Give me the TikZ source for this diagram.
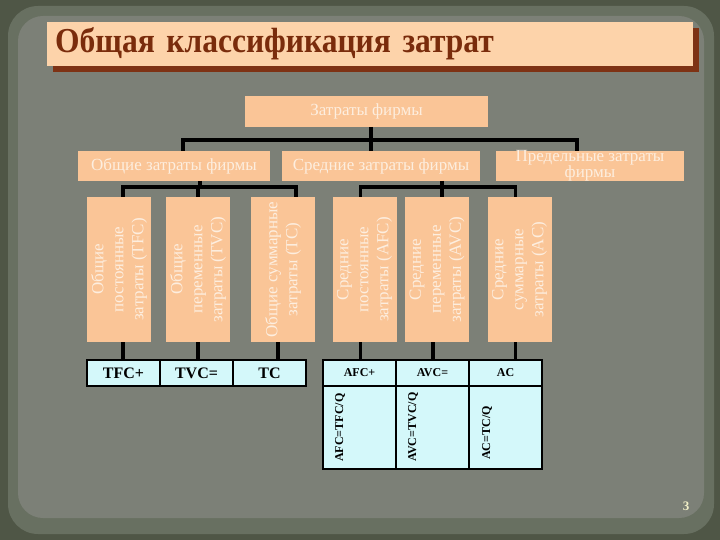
\documentclass[tikz,border=0pt]{standalone}
\usepackage{fontspec}
\setmainfont{Liberation Serif}
\newfontfamily\titlefont[FakeStretch=0.9]{Liberation Serif}
\usetikzlibrary{positioning}

\definecolor{boardedge}{HTML}{4F5646}
\definecolor{boardmid}{HTML}{687061}
\definecolor{board}{HTML}{7C8077}
\definecolor{titlebar}{HTML}{FDD3AA}
\definecolor{titleshadow}{HTML}{7E3214}
\definecolor{titletext}{HTML}{7A2C0C}
\definecolor{peachfill}{HTML}{FAC597}
\definecolor{peachtext}{HTML}{FDEEDF}
\definecolor{cellfill}{HTML}{D4F8FA}
\definecolor{pagenum}{HTML}{F2F0C8}

\begin{document}
\begin{tikzpicture}[x=1pt,y=-1pt,
		peach/.style={fill=peachfill,inner sep=0pt,outer sep=0pt,text=peachtext,font=\fontsize{17}{16}\selectfont},
		vbox/.style={peach,minimum width=64pt,minimum height=145pt},
		vtext/.style={rotate=90,align=center,inner sep=0pt,text=peachtext,font=\fontsize{17}{20}\selectfont},
		cell/.style={draw=black,line width=1.2pt,fill=cellfill,inner sep=0pt,outer sep=0pt,minimum width=73pt,minimum height=26pt,font=\bfseries\fontsize{16}{16}\selectfont},
		formula/.style={rotate=90,anchor=west,inner sep=0pt,font=\bfseries\fontsize{12}{12}\selectfont},
		link/.style={line width=3.5pt}]
	\useasboundingbox (0,0) rectangle (720,540);
	\fill[boardedge] (0,0) rectangle (720,540);
	\fill[boardmid,rounded corners=30pt] (8,6) rectangle (714,534);
	\fill[board,rounded corners=25pt] (18,16) rectangle (704,518);

	\fill[titleshadow] (53,28) rectangle (699,72);
	\node[fill=titlebar,anchor=north west,minimum width=646pt,minimum height=44pt,text width=630pt,inner xsep=8pt,inner ysep=0pt,text=titletext,font=\titlefont\bfseries\fontsize{35}{35}\selectfont] (title) at (47,22) {Общая классификация затрат};

	\node[peach,minimum width=243pt,minimum height=31pt] (top) at (366.5,111.5) {Затраты фирмы};

	\node[peach,minimum width=192pt,minimum height=30pt] (g1) at (174,166) {Общие затраты фирмы};
	\node[peach,minimum width=198pt,minimum height=30pt] (g2) at (381,166) {Средние затраты фирмы};
	\node[peach,minimum width=188pt,minimum height=29pt,align=center] (g3) at (590,166) {Предельные затраты\\фирмы};

	\node[vbox] (v1) at (119,269.5) {};
	\node[vbox] (v2) at (198,269.5) {};
	\node[vbox] (v3) at (283,269.5) {};
	\node[vbox] (v4) at (364.5,269.5) {};
	\node[vbox] (v5) at (437,269.5) {};
	\node[vbox] (v6) at (519.5,269.5) {};
	\node[vtext] at (v1) {Общие\\постоянные\\затраты (TFC)};
	\node[vtext] at (v2) {Общие\\переменные\\затраты (TVC)};
	\node[vtext] at (v3) {Общие суммарные\\затраты (TC)};
	\node[vtext] at (v4) {Средние\\постоянные\\затраты (AFC)};
	\node[vtext] at (v5) {Средние\\переменные\\затраты (AVC)};
	\node[vtext] at (v6) {Средние\\суммарные\\затраты (AC)};

	\coordinate (hub) at (371,140);
	\coordinate (j1) at (200,187);
	\coordinate (j2) at (442,187);
	\draw[link] (top.south -| hub) -- (hub);
	\draw[link] ([xshift=9pt]g1.north) |- (hub) -| ([xshift=-13pt]g3.north);
	\draw[link] (hub) -- (g2.north -| hub);
	\draw[link] (g1.south -| j1) -- (j1);
	\draw[link] ([xshift=4pt]v1.north) |- (j1) -| ([xshift=13pt]v3.north);
	\draw[link] (v2.north |- j1) -- (v2.north);
	\draw[link] (g2.south -| j2) -- (j2);
	\draw[link] ([xshift=-4pt]v4.north) |- (j2) -| ([xshift=-4pt]v6.north);
	\draw[link] (j2) -- (v5.north -| j2);

	\node[cell] (t1) at (123.5,373) {TFC+};
	\node[cell,right=0pt of t1] (t2) {TVC=};
	\node[cell,right=0pt of t2] (t3) {TC};
	\node[cell,font=\bfseries\fontsize{12}{12}\selectfont] (a1) at (359.5,373) {AFC+};
	\node[cell,right=0pt of a1,font=\bfseries\fontsize{12}{12}\selectfont] (a2) {AVC=};
	\node[cell,right=0pt of a2,font=\bfseries\fontsize{12}{12}\selectfont] (a3) {AC};
	\node[cell,below=0pt of a1,minimum height=83pt] (f1) {};
	\node[cell,below=0pt of a2,minimum height=83pt] (f2) {};
	\node[cell,below=0pt of a3,minimum height=83pt] (f3) {};
	\node[formula] at ([xshift=17pt,yshift=7pt]f1.south west) {AFC=TFC/Q};
	\node[formula] at ([xshift=17pt,yshift=7pt]f2.south west) {AVC=TVC/Q};
	\node[formula] at ([xshift=18pt,yshift=9pt]f3.south west) {AC=TC/Q};

	\coordinate (s1) at ([xshift=4pt]v1.south);
	\coordinate (s2) at (v2.south);
	\coordinate (s3) at ([xshift=-5pt]v3.south);
	\coordinate (s4) at ([xshift=-4pt]v4.south);
	\coordinate (s5) at ([xshift=-4pt]v5.south);
	\coordinate (s6) at ([xshift=-4pt]v6.south);
	\draw[link] (s1) -- (s1 |- t1.north);
	\draw[link] (s2) -- (s2 |- t2.north);
	\draw[link] (s3) -- (s3 |- t3.north);
	\draw[link] (s4) -- (s4 |- a1.north);
	\draw[link] (s5) -- (s5 |- a2.north);
	\draw[link] (s6) -- (s6 |- a3.north);

	\node[text=pagenum,font=\bfseries\fontsize{13}{13}\selectfont] (page) at (686,506) {3};
\end{tikzpicture}
\end{document}
